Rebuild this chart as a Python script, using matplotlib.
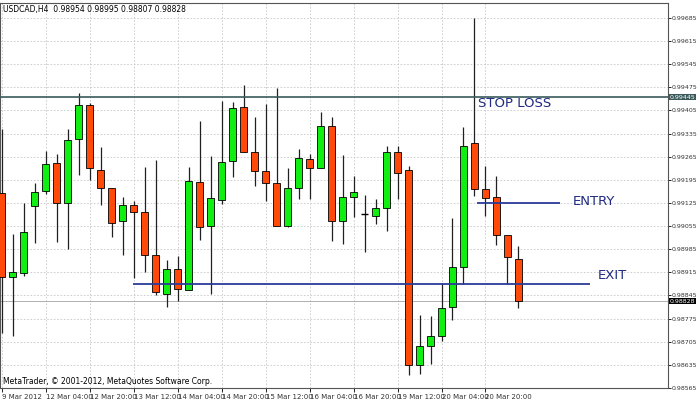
import matplotlib
matplotlib.use("Agg")
import matplotlib.pyplot as plt
import numpy as np

opens  = [.99155,.98902,.98914,.99116,.99161,.99246,.99125,.99318,.99420,.99225,.99170,.99071,.99119,.99098,.98966,.98848,
          .98924,.98863,.99188,.99056,.99134,.99252,.99414,.99279,.99222,.99185,.99056,.99170,.99258,.99231,.99357,.99071,
          .99143,.99092,.99086,.99110,.99279,.99225,.98635,.98692,.98722,.98809,.98930,.99306,.99167,.99143,.99029,.98954]
highs  = [.99348,.99032,.99125,.99185,.99282,.99273,.99348,.99459,.99426,.99294,.99170,.99143,.99131,.99234,.99255,.98951,
          .98963,.99234,.99372,.99267,.99432,.99429,.99483,.99384,.99423,.99474,.99231,.99288,.99273,.99399,.99384,.99270,
          .99206,.99149,.99137,.99297,.99297,.99237,.98785,.98782,.98884,.99080,.99354,.99685,.99237,.99206,.99029,.98995]
lows   = [.98731,.98722,.98905,.99005,.99152,.99008,.98987,.99209,.99194,.99119,.99023,.98966,.98899,.98917,.98845,.98809,
          .98827,.98863,.99014,.98848,.99122,.99203,.99279,.99176,.99131,.99056,.99053,.99137,.99137,.99231,.99011,.99002,
          .99083,.98978,.99062,.99041,.99137,.98604,.98607,.98638,.98707,.98770,.98881,.99146,.99086,.98999,.98881,.98807]
closes = [.98902,.98917,.99038,.99158,.99243,.99125,.99315,.99420,.99231,.99170,.99065,.99119,.99098,.98966,.98854,.98924,
          .98866,.99191,.99053,.99140,.99249,.99411,.99279,.99222,.99185,.99056,.99170,.99261,.99231,.99357,.99071,.99143,
          .99158,.99092,.99110,.99279,.99215,.98635,.98692,.98722,.98806,.98930,.99297,.99167,.99140,.99029,.98960,.98828]
xlabels = ["9 Mar 2012","12 Mar 04:00","12 Mar 20:00","13 Mar 12:00","14 Mar 04:00","14 Mar 20:00","15 Mar 12:00",
           "16 Mar 04:00","16 Mar 20:00","19 Mar 12:00","20 Mar 04:00","20 Mar 20:00"]
yticks = [0.99685,0.99615,0.99545,0.99475,0.99405,0.99335,0.99265,0.99195,0.99125,0.99055,0.98985,0.98915,0.98845,
          0.98775,0.98705,0.98635,0.98565]
stop_loss, entry, exit_ = 0.99445, 0.99125, 0.98881
entry_span, exit_span = (43.2, 50.8), (11.9, 53.5)
last_price = 0.98828

fig = plt.figure(figsize=(7, 4), dpi=100)
ax = fig.add_axes([0.0, 12/400, 668/700, 1 - 15/400])
ax.set_xlim(-0.155, 60.6)
ax.set_ylim(0.98571, 0.99730)

xt = np.arange(len(xlabels)) * 4
for x in xt:
    ax.axvline(x, color="#c8c8c8", ls=(0, (2, 2)), lw=0.6, zorder=0)
for y in yticks:
    ax.axhline(y, color="#c8c8c8", ls=(0, (2, 2)), lw=0.6, zorder=0)

for i, (o, h, l, c) in enumerate(zip(opens, highs, lows, closes)):
    ax.vlines(i, l, h, color="#202020", lw=0.9, zorder=2)
    col = "#11ee11" if c > o else "#ff4a0a"
    if abs(c - o) < 1e-5:
        ax.hlines(o, i - 0.33, i + 0.33, color="black", lw=1, zorder=3)
    else:
        ax.bar(i, abs(c - o), bottom=min(o, c), width=0.66, color=col, edgecolor="black", lw=0.6, zorder=3)

ax.axhline(stop_loss, color="#3a5a5a", lw=1.2, zorder=4)
ax.hlines(entry, *entry_span, color="#2b3b9a", lw=1.3, zorder=4)
ax.hlines(exit_, *exit_span, color="#2b3b9a", lw=1.3, zorder=4)
ax.axhline(last_price, color="#b0b0b0", lw=0.7, zorder=1)

navy = "#1f2a80"
ax.text(43.3, 0.99425, "STOP LOSS", color=navy, fontsize=9.5, va="center")
ax.text(51.9, 0.99128, "ENTRY", color=navy, fontsize=9.5, va="center")
ax.text(54.2, 0.98885, "EXIT", color=navy, fontsize=9.5, va="bottom")
ax.text(0.004, 0.995, "USDCAD,H4  0.98954 0.98995 0.98807 0.98828", transform=ax.transAxes,
        fontsize=5.5, va="top", ha="left")
ax.text(0.004, 0.005, "MetaTrader, © 2001-2012, MetaQuotes Software Corp.", transform=ax.transAxes,
        fontsize=5.5, va="bottom", ha="left")

ax.yaxis.tick_right()
ax.set_yticks(yticks)
ax.set_yticklabels([f"{v:.5f}" for v in yticks], fontsize=4.5, color="#333333")
ax.set_xticks(xt)
ax.set_xticklabels(xlabels, fontsize=5, ha="left", color="#333333")
ax.tick_params(axis="y", length=2, width=0.6, pad=0.5)
ax.tick_params(axis="x", length=3, width=0.6, pad=1)
for s in ax.spines.values():
    s.set_color("#555555"); s.set_linewidth(0.8)

for val, fc in [(stop_loss, "#3a5a5a"), (last_price, "black")]:
    ax.annotate(f"{val:.5f}", xy=(1.0, val), xycoords=("axes fraction", "data"), xytext=(1, 0),
                textcoords="offset points", fontsize=4.5, color="white", va="center", ha="left",
                bbox=dict(boxstyle="square,pad=0.1", fc=fc, ec="none"), zorder=10, annotation_clip=False)

fig.savefig("out.png", dpi=100)
